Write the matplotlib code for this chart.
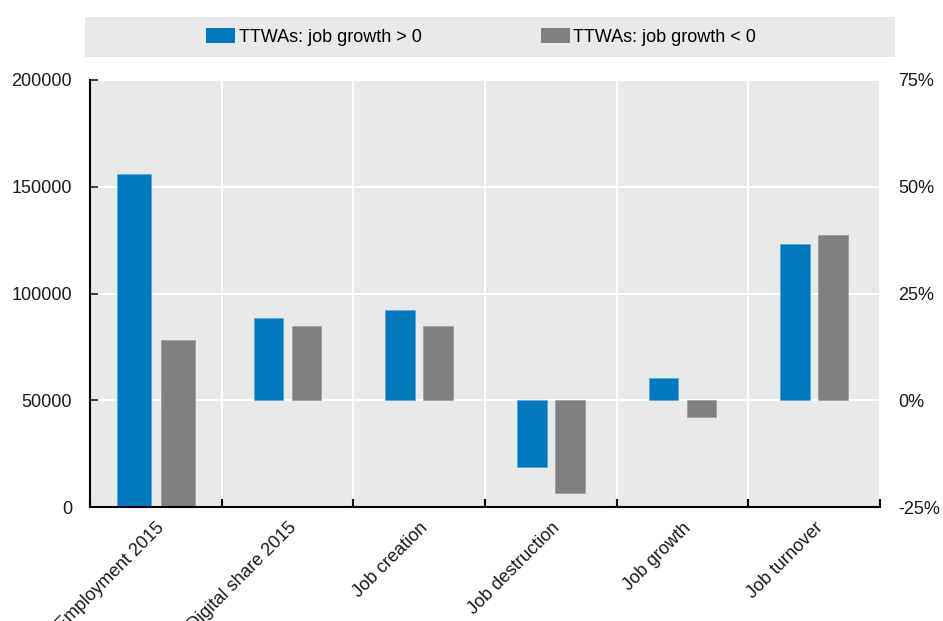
import matplotlib
matplotlib.use("Agg")
import matplotlib.pyplot as plt
import numpy as np
from matplotlib.patches import Patch, Rectangle
from matplotlib.ticker import FuncFormatter

# ----- data -----
categories = ["Employment 2015", "Digital share 2015", "Job creation",
              "Job destruction", "Job growth", "Job turnover"]
series_names = ["TTWAs: job growth > 0", "TTWAs: job growth < 0"]
# Employment (left axis, persons)
employment_pos = 156000
employment_neg = 78000
# Remaining indicators (right axis, %)
share_pos = [19.3, 21.1, -15.7, 5.3, 36.5]
share_neg = [17.4, 17.4, -21.7, -4.0, 38.8]

left_ticks = [0, 50000, 100000, 150000, 200000]
right_ticks = [-25, 0, 25, 50, 75]

color_pos = "#0179BF"
color_neg = "#808080"
color_bg = "#E9E9E9"
color_text = "#1A1A1A"

plt.rcParams["font.family"] = ["Liberation Sans", "DejaVu Sans"]
plt.rcParams["font.size"] = 13

fig = plt.figure(figsize=(9.43, 6.21), dpi=100)
ax = fig.add_axes([90 / 943, 1 - 507 / 621, 790 / 943, 427 / 621])
ax2 = ax.twinx()

x = np.arange(len(categories))
ax.set_xlim(-0.5, len(categories) - 0.5)
ax.set_facecolor(color_bg)
ax.set_axisbelow(True)

# employment bars on the left axis
ax.bar(x[0] - 0.167, employment_pos, width=0.26, color=color_pos,
       edgecolor="#5AA6D6", linewidth=0.5)
ax.bar(x[0] + 0.167, employment_neg, width=0.26, color=color_neg,
       edgecolor="#9A9A9A", linewidth=0.5)

# percentage bars on the right axis
ax2.bar(x[1:] - 0.144, share_pos, width=0.225, color=color_pos,
        edgecolor="#5AA6D6", linewidth=0.5)
ax2.bar(x[1:] + 0.144, share_neg, width=0.225, color=color_neg,
        edgecolor="#9A9A9A", linewidth=0.5)

ax.set_ylim(0, 200000)
ax.set_yticks(left_ticks)
ax2.set_ylim(-25, 75)
ax2.set_yticks(right_ticks)
ax2.yaxis.set_major_formatter(FuncFormatter(lambda v, _p: f"{v:.0f}%"))

# category labels and boundaries
ax.set_xticks(x)
ax.set_xticklabels(categories, rotation=45, ha="right", rotation_mode="anchor")
ax.tick_params(axis="x", which="major", length=0, pad=9, colors=color_text)
ax.set_xticks(np.arange(-0.5, len(categories), 1), minor=True)
ax.tick_params(axis="x", which="minor", direction="in", length=6, width=1.5, color="black")
ax.grid(True, which="minor", axis="x", color="white", linewidth=1.5)
ax.grid(True, which="major", axis="y", color="white", linewidth=1.5)

ax.tick_params(axis="y", direction="in", length=6, width=1.2, pad=13, colors=color_text)
ax2.tick_params(axis="y", length=0, pad=13, colors=color_text)

for a in (ax, ax2):
    a.spines["top"].set_visible(False)
    a.spines["right"].set_visible(False)
ax2.spines["left"].set_visible(False)
ax2.spines["bottom"].set_visible(False)
ax.spines["left"].set_linewidth(1.5)
ax.spines["bottom"].set_linewidth(1.5)

# legend band
fig.patches.append(Rectangle((85 / 943, 1 - 57 / 621), 810 / 943, 40 / 621,
                             transform=fig.transFigure, facecolor=color_bg,
                             edgecolor="none", zorder=0))
handles = [Patch(facecolor=color_pos, edgecolor="none"),
           Patch(facecolor=color_neg, edgecolor="none")]
fig.legend(handles, series_names, loc="center", bbox_to_anchor=(481 / 943, 1 - 37 / 621),
           ncol=2, frameon=False, fontsize=13, handlelength=1.65, handleheight=0.9,
           handletextpad=0.17, columnspacing=6.6)

fig.savefig("out.png", dpi=100)
